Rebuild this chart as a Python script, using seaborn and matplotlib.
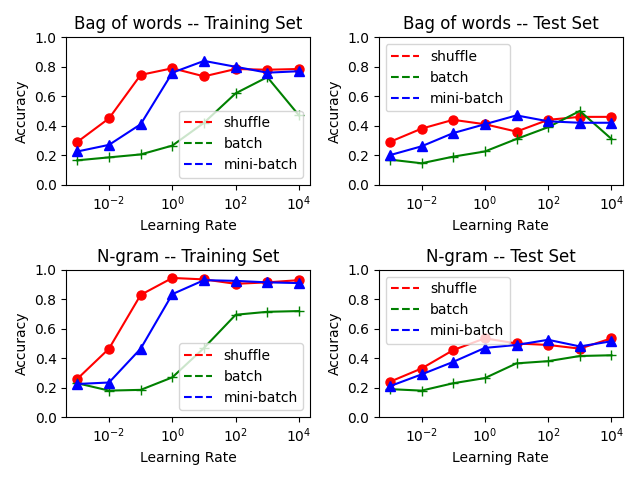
import pandas as pd
import matplotlib
matplotlib.use("Agg")
import matplotlib.pyplot as plt
import seaborn as sns
from matplotlib.lines import Line2D

# ------------- Data -------------
learning_rates = [1e-3, 1e-2, 1e-1, 1e0, 1e1, 1e2, 1e3, 1e4]

bow_train_shuffle = [0.29, 0.45, 0.745, 0.79, 0.735, 0.785, 0.78, 0.785]
bow_train_batch = [0.165, 0.185, 0.205, 0.265, 0.42, 0.62, 0.73, 0.47]
bow_train_minibatch = [0.225, 0.27, 0.41, 0.76, 0.84, 0.80, 0.76, 0.77]

bow_test_shuffle = [0.29, 0.38, 0.44, 0.41, 0.36, 0.44, 0.46, 0.46]
bow_test_batch = [0.17, 0.145, 0.19, 0.225, 0.31, 0.39, 0.50, 0.31]
bow_test_minibatch = [0.20, 0.26, 0.35, 0.41, 0.47, 0.43, 0.42, 0.42]

ngram_train_shuffle = [0.26, 0.465, 0.83, 0.945, 0.935, 0.905, 0.915, 0.93]
ngram_train_batch = [0.23, 0.18, 0.185, 0.27, 0.47, 0.695, 0.715, 0.72]
ngram_train_minibatch = [0.225, 0.235, 0.465, 0.835, 0.93, 0.925, 0.915, 0.91]

ngram_test_shuffle = [0.24, 0.33, 0.455, 0.535, 0.50, 0.49, 0.465, 0.535]
ngram_test_batch = [0.19, 0.18, 0.23, 0.265, 0.365, 0.38, 0.415, 0.42]
ngram_test_minibatch = [0.21, 0.29, 0.375, 0.47, 0.49, 0.525, 0.48, 0.515]

methods = ["shuffle", "batch", "mini-batch"]
colors = {"shuffle": "red", "batch": "green", "mini-batch": "blue"}
markers = {"shuffle": "o", "batch": "+", "mini-batch": "^"}

panels = [
    ("Bag of words -- Training Set", [bow_train_shuffle, bow_train_batch, bow_train_minibatch], "lower right"),
    ("Bag of words -- Test Set", [bow_test_shuffle, bow_test_batch, bow_test_minibatch], "upper left"),
    ("N-gram -- Training Set", [ngram_train_shuffle, ngram_train_batch, ngram_train_minibatch], "lower right"),
    ("N-gram -- Test Set", [ngram_test_shuffle, ngram_test_batch, ngram_test_minibatch], "upper left"),
]

# ------------- Plot -------------
fig, axes = plt.subplots(2, 2, figsize=(6.4, 4.8), dpi=100)

for ax, (title, series, loc) in zip(axes.flat, panels):
    for method, values in zip(methods, series):
        df = pd.DataFrame({"lr": learning_rates, "acc": values})
        sns.lineplot(data=df, x="lr", y="acc", ax=ax, color=colors[method],
                     marker=markers[method], markersize=6.5,
                     markeredgecolor=colors[method], markeredgewidth=1.0,
                     linewidth=1.5)
    ax.set_xscale("log")
    ax.set_ylim(0, 1)
    ax.set_title(title)
    ax.set_xlabel("Learning Rate")
    ax.set_ylabel("Accuracy")
    handles = [Line2D([0], [0], color=colors[m], linestyle="--") for m in methods]
    ax.legend(handles, methods, loc=loc)

plt.tight_layout()
plt.savefig("out.png", dpi=100)
